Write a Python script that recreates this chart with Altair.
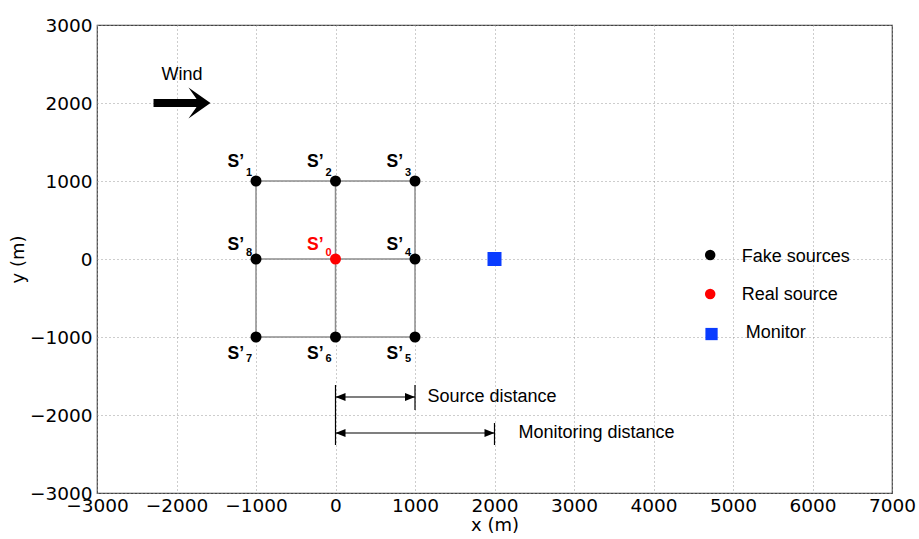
import altair as alt
import pandas as pd

# ---------------- data ----------------
fake_x = [-1000, 0, 1000, 1000, 1000, 0, -1000, -1000]
fake_y = [1000, 1000, 1000, 0, -1000, -1000, -1000, 0]
fake_num = ["1", "2", "3", "4", "5", "6", "7", "8"]
fake_row = ["top", "top", "top", "mid", "bot", "bot", "bot", "mid"]

real_x = [0]
real_y = [0]
monitor_x = [2000]
monitor_y = [0]

# connecting lines of the source grid
seg_x1 = [-1000, -1000, -1000, -1000, 0, 1000]
seg_x2 = [1000, 1000, 1000, -1000, 0, 1000]
seg_y1 = [1000, 0, -1000, -1000, -1000, -1000]
seg_y2 = [1000, 0, -1000, 1000, 1000, 1000]

# wind arrow
wind_x = [-2289, -1740]
wind_head_x = [-1711]
wind_y = [2000]
wind_text_x = [-2189]
wind_text_y = [2295]

# distance annotations
dist_labels = ["Source distance", "Monitoring distance"]
dist_x1 = [0, 0]
dist_x2 = [1000, 2000]
dist_y = [-1769, -2231]
dist_text_x = [1157, 2302]
dist_text_y = [-1769, -2231]
vbar_x = [0, 1000, 2000]
vbar_y1 = [-1615, -1615, -2103]
vbar_y2 = [-2385, -1936, -2385]

# legend (drawn inside plot)
leg_labels = ["Fake sources", "Real source", "Monitor"]
leg_mark_x = [4713, 4713, 4730]
leg_mark_y = [51, -449, -962]
leg_text_x = [5110, 5110, 5160]
leg_text_y = [32, -462, -955]

x_ticks = [-3000, -2000, -1000, 0, 1000, 2000, 3000, 4000, 5000, 6000, 7000]
y_ticks = [-3000, -2000, -1000, 0, 1000, 2000, 3000]

# ---------------- helpers ----------------
xs = alt.Scale(domain=[-3000, 7000], nice=False, zero=False)
ys = alt.Scale(domain=[-3000, 3000], nice=False, zero=False)
TXT = "Liberation Sans"


def X(f="x"):
    return alt.X(f"{f}:Q", scale=xs, axis=alt.Axis(values=x_ticks, title="x (m)", format="d"))


def Y(f="y"):
    return alt.Y(f"{f}:Q", scale=ys, axis=alt.Axis(values=y_ticks, title="y (m)", format="d"))


fake = pd.DataFrame({"x": fake_x, "y": fake_y, "num": fake_num, "row": fake_row,
                     "s": ["S\u2019"] * len(fake_x)})
real = pd.DataFrame({"x": real_x, "y": real_y, "num": ["0"], "s": ["S\u2019"]})
mon = pd.DataFrame({"x": monitor_x, "y": monitor_y})
segs = pd.DataFrame({"x": seg_x1, "x2": seg_x2, "y": seg_y1, "y2": seg_y2})

grid_lines = alt.Chart(segs).mark_rule(color="#8c8c8c", strokeWidth=1.5).encode(
    x=X(), x2="x2:Q", y=Y(), y2="y2:Q")

fake_pts = alt.Chart(fake).mark_point(filled=True, color="black", opacity=1, size=121,
                                      shape="circle").encode(x=X(), y=Y())
real_pts = alt.Chart(real).mark_point(filled=True, color="red", opacity=1, size=121,
                                      shape="circle").encode(x=X(), y=Y())
mon_pts = alt.Chart(mon).mark_point(filled=True, color="#0a3cff", opacity=1, size=196,
                                    shape="square").encode(x=X(), y=Y())

label_layers = []
offsets = {"top": (-14, -5), "mid": (-9, -3), "bot": (22, 25)}
for row, (dy_s, dy_n) in offsets.items():
    base = alt.Chart(fake).transform_filter(alt.datum.row == row)
    label_layers.append(base.mark_text(align="right", baseline="alphabetic", dx=-12, dy=dy_s,
                                       fontSize=17.5, fontWeight="bold", font=TXT,
                                       color="black").encode(x=X(), y=Y(), text="s:N"))
    label_layers.append(base.mark_text(align="center", baseline="alphabetic", dx=-7, dy=dy_n,
                                       fontSize=11, fontWeight="bold", font=TXT,
                                       color="black").encode(x=X(), y=Y(), text="num:N"))
label_layers.append(alt.Chart(real).mark_text(align="right", baseline="alphabetic", dx=-12, dy=-9,
                                              fontSize=17.5, fontWeight="bold", font=TXT,
                                              color="red").encode(x=X(), y=Y(), text="s:N"))
label_layers.append(alt.Chart(real).mark_text(align="center", baseline="alphabetic", dx=-7, dy=-3,
                                              fontSize=11, fontWeight="bold", font=TXT,
                                              color="red").encode(x=X(), y=Y(), text="num:N"))

# wind arrow
wind_df = pd.DataFrame({"x": [wind_x[0]], "x2": [wind_x[1]], "y": wind_y})
wind_shaft = alt.Chart(wind_df).mark_rule(color="black", strokeWidth=8).encode(
    x=X(), x2="x2:Q", y=Y())
wind_head = alt.Chart(pd.DataFrame({"x": wind_head_x, "y": wind_y})).mark_point(
    filled=True, color="black", opacity=1, size=961,
    shape="M 0.71 0 L -0.71 -1 L -0.2 -0.28 L -0.2 0.28 L -0.71 1 Z").encode(x=X(), y=Y())
wind_text = alt.Chart(pd.DataFrame({"x": wind_text_x, "y": wind_text_y, "t": ["Wind"]})).mark_text(
    align="left", baseline="alphabetic", fontSize=18, font=TXT, color="black").encode(
    x=X(), y=Y(), text="t:N")

# distance annotations
dist_df = pd.DataFrame({"x": dist_x1, "x2": dist_x2, "y": dist_y, "tx": dist_text_x,
                        "ty": dist_text_y, "t": dist_labels})
dist_lines = alt.Chart(dist_df).mark_rule(color="black", strokeWidth=1.2).encode(
    x=X(), x2="x2:Q", y=Y())
head_r = alt.Chart(dist_df).mark_point(filled=True, color="black", opacity=1, size=100,
                                       shape="M 0 0 L -2 -0.8 L -2 0.8 Z").encode(x=X("x2"), y=Y())
head_l = alt.Chart(dist_df).mark_point(filled=True, color="black", opacity=1, size=100,
                                       shape="M 0 0 L 2 -0.8 L 2 0.8 Z").encode(x=X(), y=Y())
dist_text = alt.Chart(dist_df).mark_text(align="left", baseline="middle", fontSize=18,
                                         font=TXT, color="black").encode(
    x=X("tx"), y=Y("ty"), text="t:N")
vbar_df = pd.DataFrame({"x": vbar_x, "y": vbar_y1, "y2": vbar_y2})
vbars = alt.Chart(vbar_df).mark_rule(color="black", strokeWidth=1.2).encode(
    x=X(), y=Y(), y2="y2:Q")

# legend
leg_df = pd.DataFrame({"x": leg_mark_x, "y": leg_mark_y, "tx": leg_text_x, "ty": leg_text_y,
                       "t": leg_labels})
leg_styles = [("Fake sources", "black", "circle", 110),
              ("Real source", "red", "circle", 110),
              ("Monitor", "#0a3cff", "square", 150)]
leg_marks = [
    alt.Chart(leg_df).transform_filter(alt.datum.t == name).mark_point(
        filled=True, opacity=1, color=col, shape=shp, size=sz).encode(x=X(), y=Y())
    for name, col, shp, sz in leg_styles
]
leg_text = alt.Chart(leg_df).mark_text(align="left", baseline="middle", fontSize=18,
                                       font=TXT, color="black").encode(
    x=X("tx"), y=Y("ty"), text="t:N")

chart = alt.layer(
    grid_lines, dist_lines, vbars, head_r, head_l, dist_text,
    wind_shaft, wind_head, wind_text,
    fake_pts, real_pts, mon_pts, *label_layers,
    *leg_marks, leg_text,
).properties(
    width=795, height=468,
    autosize=alt.AutoSizeParams(type="none"),
    padding={"left": 97, "top": 25, "right": 27, "bottom": 46},
    background="white",
).configure_view(
    stroke="#444444", strokeWidth=1.2,
).configure_axis(
    domain=False, ticks=False, grid=True, gridColor="#9a9a9a", gridDash=[1, 3], gridWidth=1,
    labelFont="DejaVu Sans", labelFontSize=18.5, labelColor="black",
    titleFont="DejaVu Sans", titleFontSize=18, titleFontWeight="normal", titleColor="black",
    labelFlush=False, labelOverlap=False,
).configure_axisX(
    labelPadding=3, titlePadding=2,
).configure_axisY(
    labelPadding=5, titlePadding=2,
)

chart.save("out.html", embed_options={"renderer": "svg", "actions": False})
